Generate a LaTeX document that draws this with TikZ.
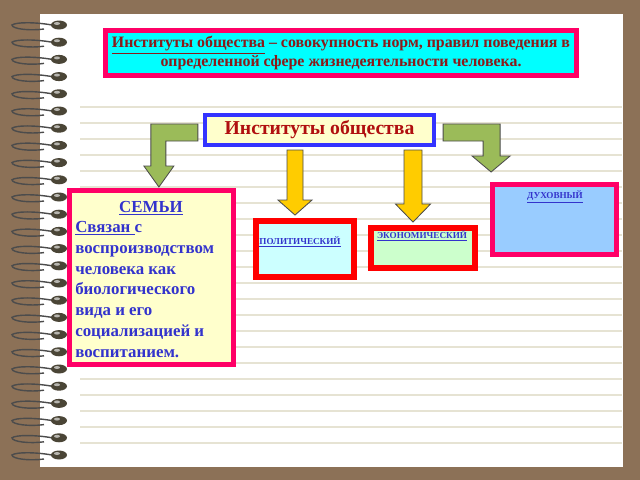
\documentclass[tikz,border=0pt]{standalone}
\usepackage{fontspec}
\setmainfont{Liberation Serif}
\usetikzlibrary{calc,positioning}

\definecolor{bgbrown}{HTML}{8C7157}
\definecolor{ruleline}{HTML}{E6E3D3}
\definecolor{pinkred}{HTML}{FF0066}
\definecolor{boxcyan}{HTML}{00FFFF}
\definecolor{darkred}{HTML}{8B1A1A}
\definecolor{instred}{HTML}{B00F0F}
\definecolor{paleyellow}{HTML}{FFFFCC}
\definecolor{instblue}{HTML}{3333FF}
\definecolor{textblue}{HTML}{3333CC}
\definecolor{olivegreen}{HTML}{9BBB59}
\definecolor{arrowyellow}{HTML}{FFCC00}
\definecolor{palecyan}{HTML}{CCFFFF}
\definecolor{palegreen}{HTML}{CCFFCC}
\definecolor{skyblue}{HTML}{99CCFF}
\definecolor{beaddark}{HTML}{4A4536}

\tikzset{
  box/.style={draw, inner sep=0pt},
  pinkbox/.style={box, draw=pinkred, line width=3.5pt},
  redbox/.style={box, draw=red, line width=4.2pt},
  lbl/.style={font=\bfseries\fontsize{6.5}{8}\selectfont, text=textblue, inner sep=0pt},
  garrow/.style={draw=black!70, fill=olivegreen, line width=0.6pt},
  yarrow/.style={draw=black!70, fill=arrowyellow, line width=0.6pt},
  wire/.style={draw=black!70, line width=1pt},
}

\begin{document}
\begin{tikzpicture}[x=0.025cm, y=-0.025cm]
  % page
  \fill[bgbrown] (0,0) rectangle (640,480);
  \fill[white] (40,14) rectangle (623,467);
  \foreach \k in {0,...,21}
    \draw[ruleline, line width=1.4pt] (80,107+16*\k) -- (622,107+16*\k);
  % spiral
  \foreach \k in {0,...,25} {
    \pgfmathsetmacro\yy{25+17.2*\k}
    \draw[wire] (52,\yy) .. controls (35,\yy-3) and (16,\yy-3) .. (12,\yy) .. controls (12,\yy+4) and (30,\yy+6) .. (44,\yy+4);
    \fill[beaddark] (59,\yy) ellipse (8 and 4.5);
    \fill[white!60!beaddark] (57,\yy-1.5) ellipse (3 and 1.5);
  }

  \node[pinkbox, fill=boxcyan, minimum width=11.78cm, minimum height=1.125cm,
        text=darkred, align=center, font=\bfseries\fontsize{11.3}{13}\selectfont] (def) at (341,53)
    {\underline{Институты общества} -- совокупность норм, правил поведения в\\
     определенной сфере жизнедеятельности человека.};

  \node[box, draw=instblue, line width=2.8pt, fill=paleyellow, minimum width=5.73cm, minimum height=0.75cm,
        text=instred, font=\bfseries\fontsize{14}{16}\selectfont] (inst) at (319.5,130) {Институты общества};

  \node[pinkbox, fill=paleyellow, minimum width=4.1cm, minimum height=4.35cm] (semya) at (151.5,277.5) {};
  \node[anchor=base, text=textblue, font=\bfseries\fontsize{12}{14.8}\selectfont, inner sep=0pt] (semyatitle) at (151,212) {\underline{СЕМЬИ}};
  \node[anchor=north west, align=left, text=textblue, font=\bfseries\fontsize{12}{14.8}\selectfont, inner sep=0pt] (semyatext) at (75,221)
    {\underline{Связан }с\\ воспроизводством\\ человека как\\ биологического\\ вида и его\\ социализацией и\\ воспитанием.};

  \node[redbox, fill=palecyan, minimum width=2.45cm, minimum height=1.4cm] (pol) at (305,249) {};
  \node[lbl, anchor=base] (poltext) at (300,244) {\underline{ПОЛИТИЧЕСКИЙ}};

  \node[redbox, fill=palegreen, minimum width=2.6cm, minimum height=1cm] (econ) at (423,248) {};
  \node[lbl, anchor=base] (econtext) at (422,238) {\underline{ЭКОНОМИЧЕСКИЙ}};

  \node[pinkbox, fill=skyblue, minimum width=3.1cm, minimum height=1.75cm] (duh) at (554.5,219.5) {};
  \node[lbl, anchor=base] (duhtext) at (555,198) {\underline{ДУХОВНЫЙ}};

  % arrows
  \draw[garrow, shift={(inst.west)}] (-5,-6) -- (-52,-6) -- (-52,36) -- (-59,36) -- (-44,57) -- (-29,36) -- (-37,36) -- (-37,11) -- (-5,11) -- cycle;
  \draw[garrow, shift={(inst.east)}] (7,-6) -- (64,-6) -- (64,26) -- (74,26) -- (55,42) -- (36,26) -- (47,26) -- (47,11) -- (7,11) -- cycle;
  \draw[yarrow, shift={($(pol.north)+(-10,0)$)}] (0,-3) -- (-17,-18) -- (-8,-18) -- (-8,-68) -- (8,-68) -- (8,-18) -- (17,-18) -- cycle;
  \draw[yarrow, shift={($(econ.north)+(-10,0)$)}] (0,-3) -- (-17.5,-21) -- (-9,-21) -- (-9,-75) -- (9,-75) -- (9,-21) -- (17.5,-21) -- cycle;
\end{tikzpicture}
\end{document}
